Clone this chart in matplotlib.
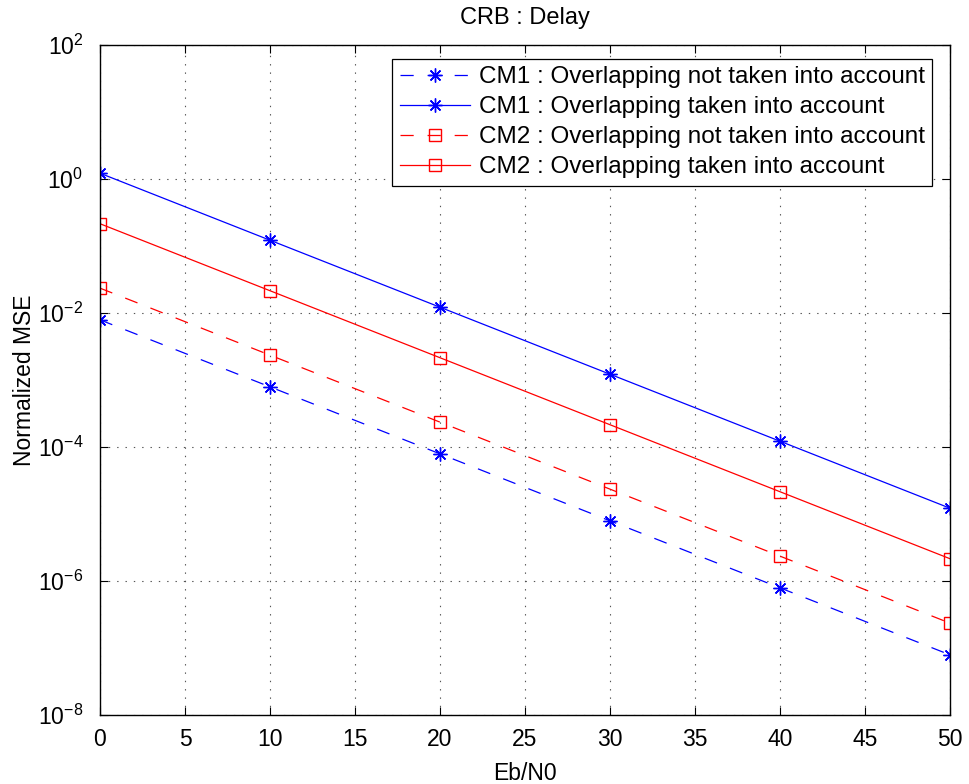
import numpy as np
import matplotlib
matplotlib.use("Agg")
import matplotlib.pyplot as plt

plt.rcParams['font.family'] = ['Liberation Sans', 'DejaVu Sans']
plt.rcParams['mathtext.fontset'] = 'custom'
plt.rcParams['mathtext.rm'] = 'Liberation Sans'
plt.rcParams['lines.scale_dashes'] = False

# Data
ebn0 = [0, 10, 20, 30, 40, 50]
cm1_not = [7.9e-3, 7.9e-4, 7.9e-5, 7.9e-6, 7.9e-7, 7.9e-8]
cm1_taken = [1.22, 0.122, 1.22e-2, 1.22e-3, 1.22e-4, 1.22e-5]
cm2_not = [2.35e-2, 2.35e-3, 2.35e-4, 2.35e-5, 2.35e-6, 2.35e-7]
cm2_taken = [0.215, 2.15e-2, 2.15e-3, 2.15e-4, 2.15e-5, 2.15e-6]
labels = ['CM1 : Overlapping not taken into account',
          'CM1 : Overlapping taken into account',
          'CM2 : Overlapping not taken into account',
          'CM2 : Overlapping taken into account']

fs = 16.5
fig = plt.figure(figsize=(9.69, 7.84), dpi=100)
ax = fig.add_axes([100/969, 1-715/784, 850/969, 670/784])

dash = (0, (9.5, 10))
ast = (8, 2, 0)
ax.semilogy(ebn0, cm1_not, color='b', linestyle=dash, marker=ast, ms=10, mew=1.0, lw=0.9, label=labels[0])
ax.semilogy(ebn0, cm1_taken, color='b', linestyle='-', marker=ast, ms=10, mew=1.0, lw=0.9, label=labels[1])
ax.semilogy(ebn0, cm2_not, color='r', linestyle=dash, marker='s', ms=9, mfc='none', mew=1.0, lw=0.9, label=labels[2])
ax.semilogy(ebn0, cm2_taken, color='r', linestyle='-', marker='s', ms=9, mfc='none', mew=1.0, lw=0.9, label=labels[3])

ax.set_xlim(0, 50)
ax.set_ylim(1e-8, 1e2)
ax.set_xticks(np.arange(0, 51, 5))
ax.set_yticks([1e-8, 1e-6, 1e-4, 1e-2, 1e0, 1e2])
ax.minorticks_off()
ax.tick_params(direction='in', top=True, right=True, labelsize=fs, length=6, width=0.8)
ax.tick_params(axis='x', pad=9)
ax.tick_params(axis='y', pad=12)
ax.grid(True, linestyle=(0, (1, 5)), color='#555555', lw=0.8)
for s in ax.spines.values():
    s.set_linewidth(1.0)

ax.set_title('CRB : Delay', fontsize=17, pad=15)
ax.set_xlabel('Eb/N0', fontsize=fs, labelpad=8)
ax.set_ylabel('Normalized MSE', fontsize=fs, labelpad=1)

leg = ax.legend(loc='upper right', bbox_to_anchor=(1 - 18/850, 1 - 14/670),
                fontsize=17.5, fancybox=False, edgecolor='k',
                framealpha=1, handlelength=2.9, borderpad=0.3, labelspacing=0.33,
                handletextpad=0.35, borderaxespad=0)
leg.get_frame().set_linewidth(0.9)

fig.savefig('out.png', dpi=100)
